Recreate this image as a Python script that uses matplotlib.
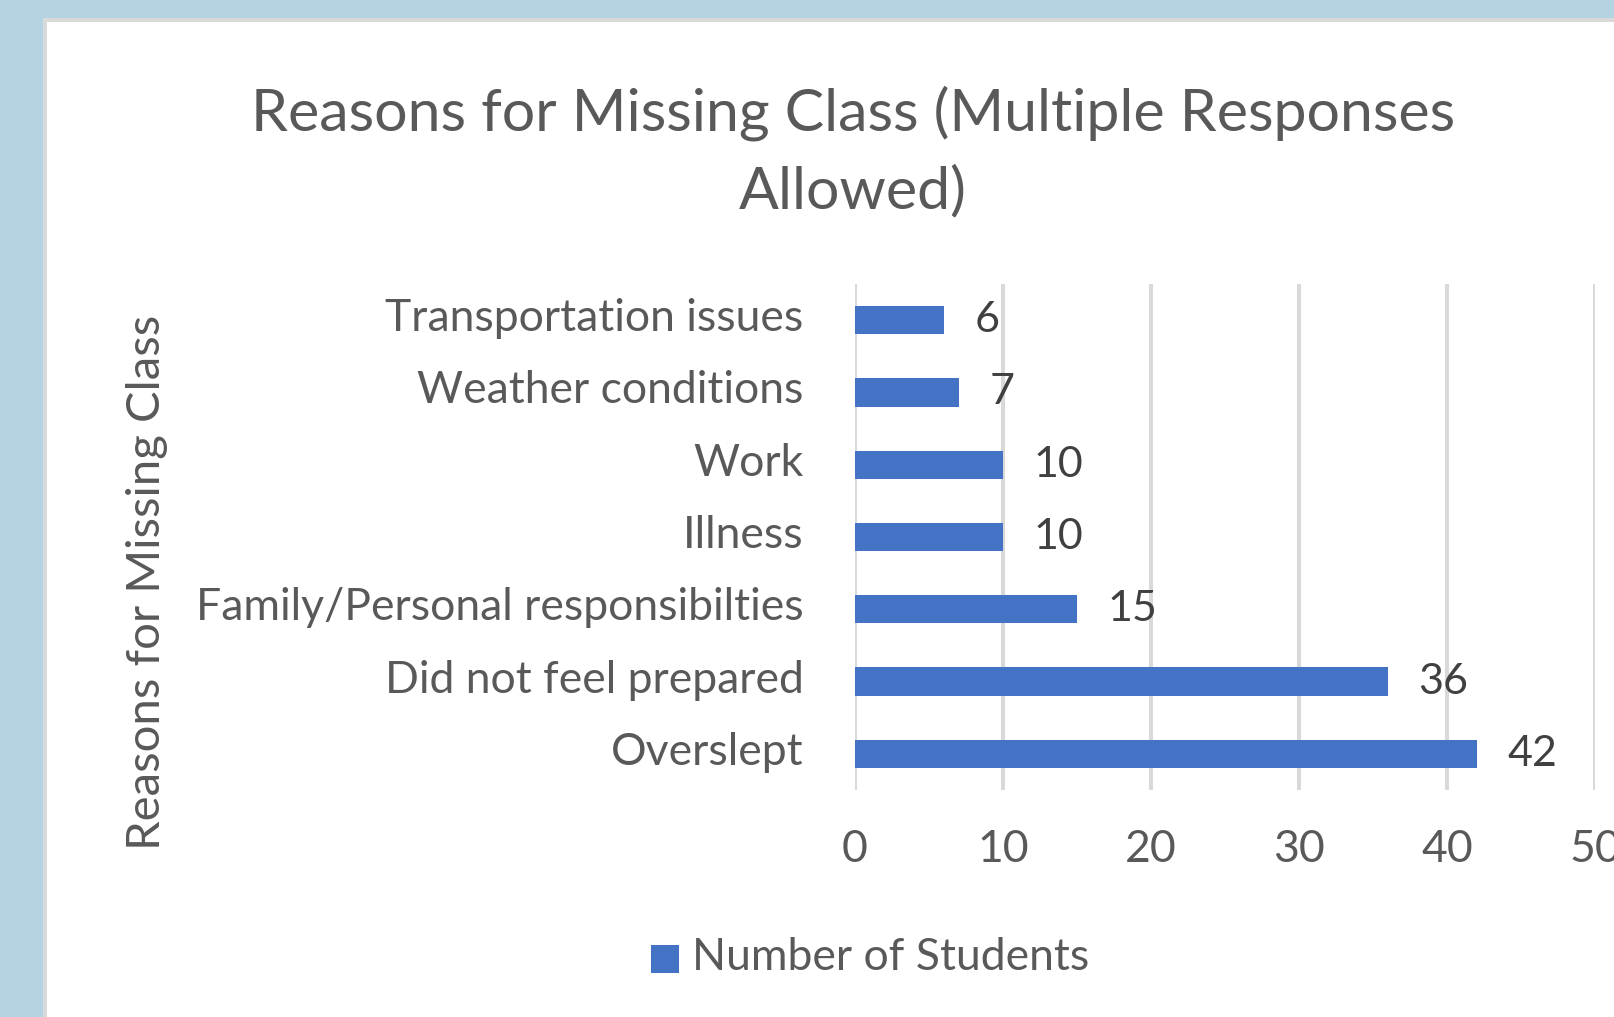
import matplotlib.pyplot as plt
import matplotlib.transforms as mtransforms
from matplotlib.patches import Rectangle

reasons = ['Overslept', 'Did not feel prepared', 'Family/Personal responsibilties',
           'Illness', 'Work', 'Weather conditions', 'Transportation issues']
students = [42, 36, 15, 10, 10, 7, 6]
x_ticks = [0, 10, 20, 30, 40, 50]

plt.rcParams['font.family'] = ['Lato', 'DejaVu Sans']
text_col = '#595959'
bar_col = '#4472C4'

W, H = 1615, 1017
fig = plt.figure(figsize=(W / 100, H / 100), dpi=100, facecolor='#B4D4E4')
# chart area frame (cropped at right and bottom)
fig.patches.append(Rectangle((43 / W, 0), 1, 1 - 18 / H, transform=fig.transFigure,
                             facecolor='#D9D9D9', edgecolor='none', zorder=-2))
fig.patches.append(Rectangle((47 / W, 0), 1, 1 - 22 / H, transform=fig.transFigure,
                             facecolor='white', edgecolor='none', zorder=-1))

ax = fig.add_axes([855 / W, 1 - 790 / H, 740 / W, 506 / H])
ax.set_facecolor('none')
pos = range(len(reasons))
ax.barh(pos, students, height=0.39, color=bar_col, zorder=3)
for p, v in zip(pos, students):
    ax.annotate(str(v), (v, p), xytext=(22, 0), textcoords='offset points',
                ha='left', va='center', fontsize=31, color='#404040')

ax.set_xlim(0, 50)
ax.set_ylim(-0.5, len(reasons) - 0.5)
ax.set_xticks(x_ticks)
ax.set_yticks(list(pos))
ax.set_yticklabels(reasons)
ax.tick_params(length=0, labelsize=32, labelcolor=text_col)
ax.tick_params(axis='x', pad=28)
ax.tick_params(axis='y', pad=37)
shift = mtransforms.ScaledTranslation(0, 4 / 72, fig.dpi_scale_trans)
for lbl in ax.get_yticklabels():
    lbl.set_transform(lbl.get_transform() + shift)
ax.grid(axis='x', color='#D9D9D9', linewidth=2.9, zorder=0)
for s in ax.spines.values():
    s.set_visible(False)

fig.text(147 / W, 1 - 582 / H, 'Reasons for Missing Class', rotation=90,
         ha='center', va='center', fontsize=34, color=text_col)
fig.text(853 / W, 1 - 113 / H, 'Reasons for Missing Class (Multiple Responses',
         ha='center', va='center', fontsize=42.5, color=text_col)
fig.text(853 / W, 1 - 192 / H, 'Allowed)',
         ha='center', va='center', fontsize=42.5, color=text_col)

# legend
fig.patches.append(Rectangle((651 / W, 1 - 973 / H), 28 / W, 28 / H, transform=fig.transFigure,
                             facecolor=bar_col, edgecolor='none'))
fig.text(692 / W, 1 - 957 / H, 'Number of Students', ha='left', va='center',
         fontsize=32, color=text_col)

fig.savefig('out.png', dpi=100, facecolor=fig.get_facecolor())
